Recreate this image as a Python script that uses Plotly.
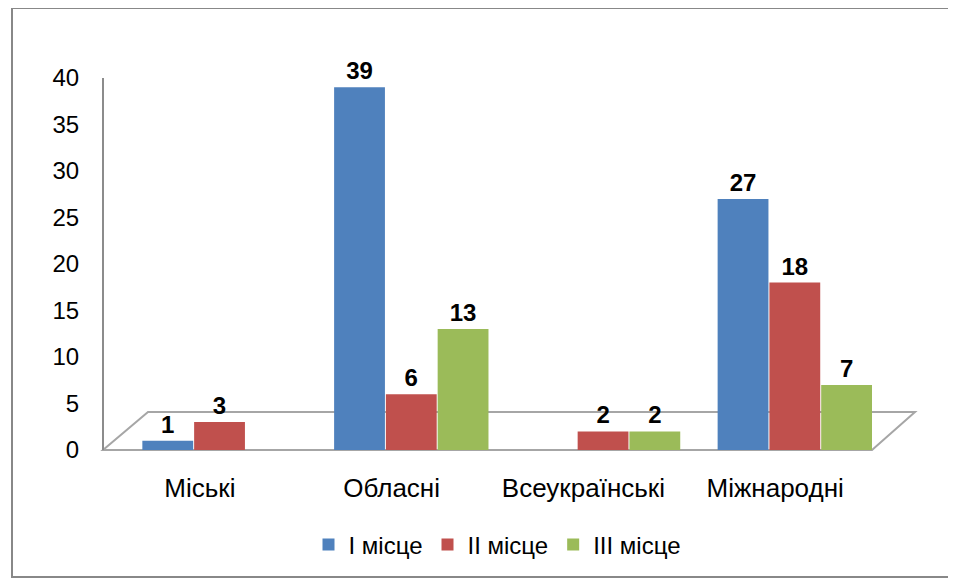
import plotly.graph_objects as go

categories = ["Міські", "Обласні", "Всеукраїнські", "Міжнародні"]
series_names = ["I місце", "II місце", "III місце"]
first_place = [1, 39, 0, 27]
second_place = [3, 6, 2, 18]
third_place = [0, 13, 2, 7]
y_ticks = [0, 5, 10, 15, 20, 25, 30, 35, 40]

colors = ["#4F81BD", "#C0504D", "#9BBB59"]
offsets = [-0.3, -0.03, 0.24]
W, H = 956, 580
PAGE_OFFSET = 8  # default page body margin
FONT = "Liberation Sans, Arial, sans-serif"


def px(x):
    return (x - PAGE_OFFSET) / W


def py(y):
    return 1 - (y - PAGE_OFFSET) / H


fig = go.Figure()
for name, vals, col, off in zip(series_names, [first_place, second_place, third_place], colors, offsets):
    fig.add_trace(go.Bar(
        x=categories,
        y=[v if v else None for v in vals],
        name=name,
        marker=dict(color=col, line=dict(width=0)),
        width=0.265,
        offset=off,
        text=[str(v) if v else "" for v in vals],
        textposition="outside",
        cliponaxis=False,
        textfont=dict(family=FONT, size=24, color="#000000", weight="bold"),
    ))

# 3D-like floor and outer frame (decoration)
floor = (f"M {px(103)} {py(450)} L {px(872)} {py(450)} L {px(915)} {py(412)} "
         f"L {px(148)} {py(412)} Z")
shapes = [
    dict(type="path", path=floor, xref="paper", yref="paper",
         line=dict(color="#A6A6A6", width=2), fillcolor="rgba(0,0,0,0)", layer="below"),
    dict(type="rect", xref="paper", yref="paper", x0=px(12), x1=px(951), y0=py(577), y1=py(8),
         line=dict(color="#888888", width=2), fillcolor="rgba(0,0,0,0)", layer="below"),
]

fig.update_layout(
    width=W, height=H,
    margin=dict(l=0, r=0, t=0, b=0, autoexpand=False),
    paper_bgcolor="white", plot_bgcolor="white",
    barmode="overlay",
    showlegend=True,
    legend=dict(orientation="h", x=px(497), xanchor="center", y=py(545), yanchor="middle",
                font=dict(family=FONT, size=24, color="#000000"), itemwidth=30,
                traceorder="normal"),
    font=dict(family=FONT, size=24, color="#000000"),
    shapes=shapes,
    xaxis=dict(domain=[px(104), px(872)], showgrid=False, showline=False, zeroline=False,
               ticks="", ticklabelstandoff=20, tickfont=dict(family=FONT, size=26)),
    yaxis=dict(domain=[py(450), py(78)], range=[0, 40], tickvals=y_ticks, showgrid=False,
               zeroline=False, showline=True, linecolor="#8C8C8C", linewidth=2, ticks="",
               ticklabelstandoff=18, tickfont=dict(family=FONT, size=24)),
)

fig.write_html("out.html")
